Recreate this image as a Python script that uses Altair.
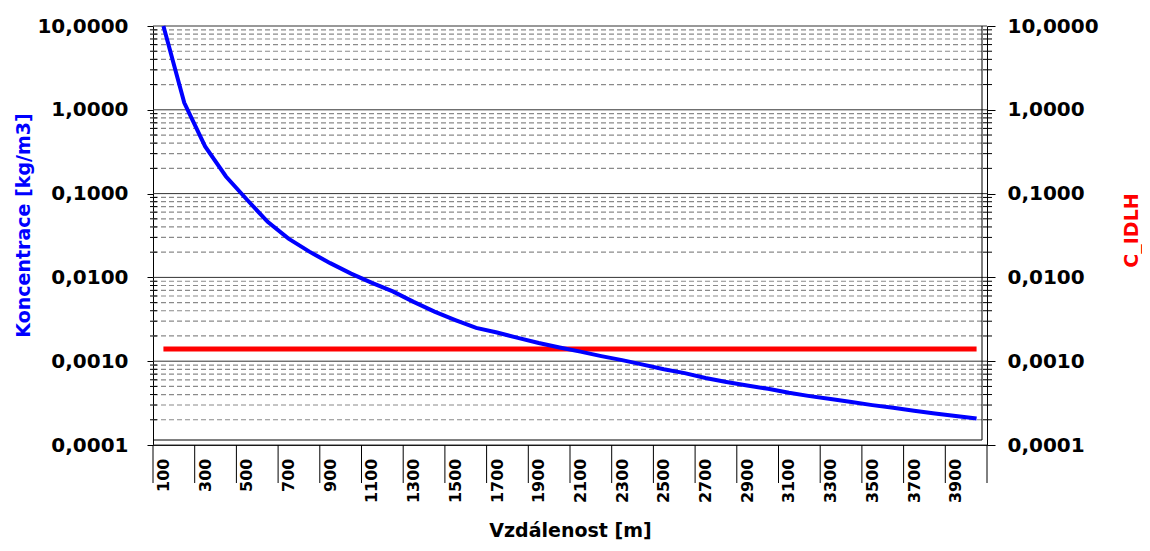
import altair as alt
import pandas as pd

# ---------------- data ----------------
distance = [100, 200, 300, 400, 500, 600, 700, 800, 900, 1000,
            1100, 1200, 1300, 1400, 1500, 1600, 1700, 1800, 1900, 2000,
            2100, 2200, 2300, 2400, 2500, 2600, 2700, 2800, 2900, 3000,
            3100, 3200, 3300, 3400, 3500, 3600, 3700, 3800, 3900, 4000]
concentration = [10.0, 1.21, 0.365, 0.16, 0.085, 0.046, 0.029, 0.0203, 0.0148, 0.0111,
                 0.0086, 0.0068, 0.0051, 0.0039, 0.0031, 0.0025, 0.0022, 0.0019, 0.00165, 0.00146,
                 0.0013, 0.00115, 0.00103, 0.00091, 0.00080, 0.00072, 0.00063, 0.000566, 0.000512, 0.000468,
                 0.00042, 0.000383, 0.000353, 0.000325, 0.000299, 0.000278, 0.000256, 0.000238, 0.000222, 0.000207]
c_idlh = 0.0014

x_label_values = [100, 300, 500, 700, 900, 1100, 1300, 1500, 1700, 1900,
                  2100, 2300, 2500, 2700, 2900, 3100, 3300, 3500, 3700, 3900]
x_tick_bounds = [50, 250, 450, 650, 850, 1050, 1250, 1450, 1650, 1850, 2050,
                 2250, 2450, 2650, 2850, 3050, 3250, 3450, 3650, 3850, 4050]
y_major = [0.0001, 0.001, 0.01, 0.1, 1.0, 10.0]
y_minor = [m * d for d in [0.0001, 0.001, 0.01, 0.1, 1.0] for m in [2, 3, 4, 5, 6, 7, 8, 9]]

FONT = "DejaVu Sans"
W, H = 834, 419

df = pd.DataFrame({"d": distance, "c": concentration})
idlh_df = pd.DataFrame({"d": distance, "c": [c_idlh] * len(distance)})
major_df = pd.DataFrame({"v": y_major})
minor_df = pd.DataFrame({"v": y_minor})
bounds_df = pd.DataFrame({"d": x_tick_bounds})
one = pd.DataFrame({"a": [0]})

yscale = alt.Scale(type="log", domain=[0.0001, 10], nice=False)
xscale = alt.Scale(domain=[50, 4050], nice=False, zero=False)
label_expr = "replace(format(datum.value, '.4f'), '.', ',')"

x_axis = alt.Axis(
    values=x_label_values, format="d", ticks=False, grid=False, domain=True,
    domainColor="black", labelAngle=270, labelPadding=13, labelFont=FONT,
    labelFontSize=16, labelFontWeight="bold", labelColor="black",
    labelFlush=False, labelOverlap=False, labelAlign="right", labelBaseline="middle",
    title="Vzdálenost [m]", titleFont=FONT, titleFontSize=19, titleFontWeight="bold",
    titleColor="black", titleX=W / 2, titleY=85, titleBaseline="middle", titleAlign="center")
X = alt.X("d:Q", scale=xscale, axis=x_axis)

ynone = lambda f: alt.Y(f, type="quantitative", scale=yscale, axis=None)

minor_grid = alt.Chart(minor_df).mark_rule(color="#8a8a8a", strokeDash=[5, 3], strokeWidth=1.2).encode(
    y=ynone("v"), x=alt.value(0), x2=alt.value(W - 5))
major_grid = alt.Chart(major_df).mark_rule(color="#333333", strokeWidth=1).encode(
    y=ynone("v"), x=alt.value(0), x2=alt.value(W))
left_minor_ticks = alt.Chart(minor_df).mark_rule(color="black", strokeWidth=1).encode(
    y=ynone("v"), x=alt.value(-3), x2=alt.value(4))
right_minor_ticks = alt.Chart(minor_df).mark_rule(color="black", strokeWidth=1).encode(
    y=ynone("v"), x=alt.value(W - 4), x2=alt.value(W + 5))
inner_right = alt.Chart(one).mark_rule(color="black", strokeWidth=1).encode(
    x=alt.value(W - 5), y=alt.value(0), y2=alt.value(H - 5))
inner_bottom = alt.Chart(one).mark_rule(color="black", strokeWidth=1).encode(
    y=alt.value(H - 5), x=alt.value(0), x2=alt.value(W - 5))
x_ticks = alt.Chart(bounds_df).mark_rule(color="black", strokeWidth=1).encode(
    x=X, y=alt.value(H), y2=alt.value(H + 38))

blue = alt.Chart(df).mark_line(color="#0000FF", strokeWidth=4).encode(
    x=X,
    y=alt.Y("c:Q", scale=yscale, axis=alt.Axis(
        orient="left", values=y_major, labelExpr=label_expr, grid=False,
        domain=True, domainColor="black", ticks=True, tickSize=6, tickColor="black",
        labelPadding=19, labelFont=FONT, labelFontSize=20, labelFontWeight="bold",
        labelColor="black", labelFlush=False, labelOverlap=False,
        title="Koncentrace [kg/m3]", titleColor="#0000FF", titleFont=FONT,
        titleFontSize=19, titleFontWeight="bold", titleAngle=270, titleX=-130,
        titleY=199, titleAlign="center", titleBaseline="middle")))

red = alt.Chart(idlh_df).mark_line(color="#FF0000", strokeWidth=5).encode(
    x=X,
    y=alt.Y("c:Q", scale=yscale, axis=alt.Axis(
        orient="right", values=y_major, labelExpr=label_expr, grid=False,
        domain=True, domainColor="black", ticks=True, tickSize=8, tickColor="black",
        labelPadding=12, labelFont=FONT, labelFontSize=20, labelFontWeight="bold",
        labelColor="black", labelFlush=False, labelOverlap=False,
        title="C_IDLH", titleColor="#FF0000", titleFont=FONT,
        titleFontSize=19, titleFontWeight="bold", titleAngle=270, titleX=144,
        titleY=204, titleAlign="center", titleBaseline="middle")))

chart = alt.layer(
    minor_grid, major_grid, left_minor_ticks, right_minor_ticks,
    inner_right, inner_bottom, x_ticks, red, blue
).resolve_scale(y="independent").properties(
    width=W, height=H,
    autosize=alt.AutoSizeParams(type="none"),
    padding={"left": 145, "top": 18, "right": 155, "bottom": 98},
).configure_view(stroke=None)

chart.save("out.html", embed_options={"renderer": "svg", "actions": False})
